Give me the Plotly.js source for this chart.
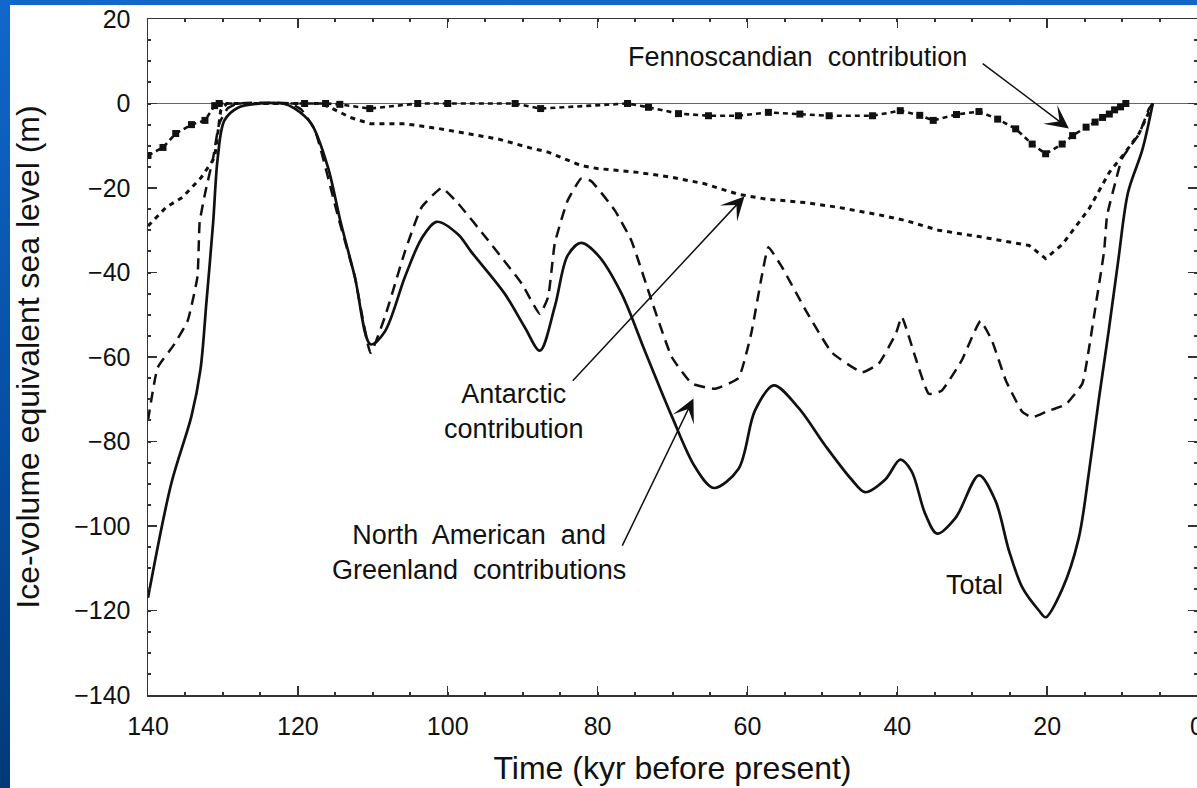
<!DOCTYPE html>
<html>
<head>
<meta charset="utf-8">
<script src="https://cdn.plot.ly/plotly-3.0.1.min.js"></script>
<style>
  html, body { margin: 0; padding: 0; }
  body { width: 1197px; height: 788px; overflow: hidden;
         background: linear-gradient(to bottom, #1167cc 0%, #0650a6 50%, #023a78 100%); }
  #chart { position: absolute; left: 10px; top: 5px; width: 1187px; height: 783px; background: #ffffff; }
</style>
</head>
<body>
<div id="chart"></div>
<script>
// Total ice-volume equivalent sea level (solid)
const totalKyr = [140, 136.9, 134.2, 133.0, 132.2, 131.3, 130.7, 129.8, 128.0, 125, 122, 120.4, 118.2, 116.0, 114.3, 112.4, 110.3, 108.4, 105.7, 103.5, 101.5, 98.6, 96.9, 92.4, 89.7, 87.7, 85.7, 84.0, 82.2, 79.9, 76.8, 73.7, 70.1, 67.0, 64.5, 61.2, 59.0, 56.5, 53.2, 49.6, 46.1, 44.3, 41.6, 39.6, 38.1, 36.3, 34.7, 32.2, 29.1, 26.9, 25.1, 23.3, 21.1, 20.2, 18.0, 15.8, 14.4, 13.1, 11.8, 10.5, 9.2, 7.3, 5.9];
const totalSL  = [-117, -90, -74, -63, -47, -28, -13, -4, -1, 0, 0, -1.2, -4.8, -15, -28, -41, -57, -54, -41, -32, -28, -31, -35, -45, -53, -58.5, -48, -36, -33, -36, -45, -58.5, -74, -86, -91, -86.5, -72.7, -66.7, -72, -81, -89, -92, -89, -84.3, -87, -97, -101.8, -98, -88, -94, -105.8, -114.6, -120, -121.6, -115, -103, -87, -70, -54, -37, -21, -11, 0];

// North American and Greenland contributions (long dashes)
const naKyr = [140, 138.7, 136.5, 134.7, 133.4, 133.1, 132.3, 131.3, 130.5, 129.4, 128, 121, 119.5, 117.7, 114.6, 112.4, 110.3, 108.4, 105.7, 103.5, 100.8, 98.6, 94.6, 90.1, 87.7, 86.6, 85.7, 84.0, 82.2, 80.9, 77.7, 75.5, 72.8, 70.1, 67.4, 64.3, 61.2, 59.5, 58.1, 57.2, 55.4, 52.2, 48.7, 44.7, 42.5, 40.2, 39.4, 37.6, 35.8, 34.1, 31.4, 28.9, 27.4, 25.5, 23.3, 22.0, 20.2, 17.5, 15.3, 14.4, 13.5, 12.4, 12.0, 10.8, 10.0, 7.7, 6.4, 5.9];
const naSL  = [-75, -62.5, -57, -51.4, -41, -28, -20.6, -12.8, -4.8, -1.2, 0, 0, -1.5, -6.4, -27, -41, -59, -50.6, -35, -24.6, -20, -23.7, -32.4, -42.7, -49.8, -45.8, -33, -23, -17.8, -18.3, -25.3, -32.4, -46.6, -60, -66.3, -67.5, -65, -54.5, -41, -34, -38.7, -49, -59, -63.6, -61.6, -54.5, -50.5, -60, -68.7, -68, -60.8, -51.5, -56, -65.6, -73, -74.3, -73, -71.2, -66.3, -57.8, -47.6, -35, -26.5, -18, -13, -7.1, -1.2, 0];

// Antarctic contribution (short dashes)
const antKyr = [140, 137.6, 135.4, 132.9, 131.1, 130.3, 129.5, 117, 115.6, 113.0, 110.3, 105.7, 101.3, 98.6, 93.3, 89, 86.6, 82.2, 80, 74.6, 70, 65.7, 61.2, 57.6, 52, 47.8, 42, 38.9, 34.5, 29.1, 22.4, 20.2, 18.0, 14.4, 11.7, 9.5, 7.7, 5.9];
const antSL  = [-29, -24.6, -22.2, -17.5, -12.8, -1.7, 0, 0, -1, -3.3, -4.8, -4.8, -5.9, -6.8, -8.4, -10.5, -11.5, -14.7, -15.4, -16.3, -17.5, -19, -21.5, -22.6, -23.5, -24.6, -26.5, -27.7, -30, -31.5, -33.6, -36.7, -33.4, -24.9, -16.3, -11.4, -7, 0];

// Fennoscandian contribution (dashes with square markers)
const fenKyr = [140, 138.0, 136.3, 134.2, 132.4, 131.1, 130.5, 119.1, 116.3, 114.4, 110.4, 104, 100, 91, 87.6, 76, 73.2, 69.2, 65.2, 61.2, 57.2, 53, 49.1, 43.3, 39.6, 37.0, 35.2, 32.1, 29.1, 26.6, 24.2, 22.0, 20.2, 18.0, 16.6, 14.8, 13.6, 12.6, 11.7, 11, 10.2, 9.5];
const fenSL  = [-12.3, -10.4, -7.1, -5, -4, -0.5, 0, 0, 0, -0.2, -1.2, 0, 0, 0, -1.2, 0, -0.9, -2.4, -2.9, -2.9, -2.1, -2.5, -2.9, -2.9, -1.7, -2.8, -4, -2.6, -1.9, -3.7, -6, -9.6, -11.9, -9.6, -7.6, -5.6, -4.4, -3.3, -2.5, -1.5, -0.8, 0];

const xTickVals = [140, 120, 100, 80, 60, 40, 20, 0];
const yTickVals = [20, 0, -20, -40, -60, -80, -100, -120, -140];

const FONT = 'Liberation Sans, Arial, Helvetica, sans-serif';
const INK = '#111111';

const traces = [
  { x: antKyr, y: antSL, mode: 'lines', name: 'Antarctic',
    line: { color: INK, width: 3, dash: '5px,5px' } },
  { x: fenKyr, y: fenSL, mode: 'lines+markers', name: 'Fennoscandian',
    line: { color: INK, width: 2.6, dash: '5px,4px' },
    marker: { symbol: 'square', size: 7, color: INK } },
  { x: naKyr, y: naSL, mode: 'lines', name: 'North American and Greenland',
    line: { color: INK, width: 2.5, dash: '11px,7px', shape: 'spline', smoothing: 0.4 } },
  { x: totalKyr, y: totalSL, mode: 'lines', name: 'Total',
    line: { color: INK, width: 2.7, shape: 'spline', smoothing: 0.9 } }
];

const axisCommon = {
  showline: true, linecolor: '#333', linewidth: 1.5, mirror: 'ticks',
  ticks: 'inside', ticklen: 9, tickwidth: 1.5, tickcolor: '#333',
  showgrid: false, ticklabeloverflow: 'allow',
  tickfont: { family: FONT, size: 25, color: INK }
};

const arrowStyle = { showarrow: true, arrowhead: 3, arrowsize: 2.6, arrowwidth: 1.5, arrowcolor: INK,
                     axref: 'x', ayref: 'y', xref: 'x', yref: 'y', text: '' };

const layout = {
  width: 1187, height: 783,
  margin: { l: 138, r: 0, t: 13.5, b: 93 },
  paper_bgcolor: '#ffffff', plot_bgcolor: '#ffffff',
  showlegend: false,
  xaxis: Object.assign({}, axisCommon, {
    range: [140, 0], tickmode: 'array', tickvals: xTickVals,
    ticktext: xTickVals.map(String), zeroline: false,
    ticklabelstandoff: 8,
    minor: { dtick: 5, tick0: 0, ticks: 'inside', ticklen: 3, tickwidth: 2, tickcolor: '#333' },
    title: { text: 'Time (kyr before present)', font: { family: FONT, size: 32, color: INK }, standoff: 18 }
  }),
  yaxis: Object.assign({}, axisCommon, {
    range: [-140, 20], tickmode: 'array', tickvals: yTickVals,
    zeroline: true, zerolinecolor: '#666', zerolinewidth: 1.6,
    ticklabelstandoff: 11,
    minor: { dtick: 5, tick0: 0, ticks: 'inside', ticklen: 3, tickwidth: 2, tickcolor: '#333' },
    title: { text: 'Ice-volume equivalent sea level (m)', font: { family: FONT, size: 32, color: INK }, standoff: 26 }
  }),
  annotations: [
    { x: 53.3, y: 11.1, xref: 'x', yref: 'y', text: 'Fennoscandian  contribution', showarrow: false,
      font: { family: FONT, size: 27, color: INK } },
    Object.assign({ x: 17.1, y: -5.9, ax: 28.8, ay: 9.7 }, arrowStyle),
    { x: 91.2, y: -72.9, xref: 'x', yref: 'y', text: 'Antarctic<br>contribution', showarrow: false,
      font: { family: FONT, size: 27, color: INK } },
    Object.assign({ x: 60.4, y: -22, ax: 83.5, ay: -66 }, arrowStyle),
    { x: 95.8, y: -106.2, xref: 'x', yref: 'y', text: 'North  American  and<br>Greenland  contributions', showarrow: false,
      font: { family: FONT, size: 27, color: INK } },
    Object.assign({ x: 67.2, y: -69.8, ax: 76.8, ay: -105 }, arrowStyle),
    { x: 29.7, y: -114, xref: 'x', yref: 'y', text: 'Total', showarrow: false,
      font: { family: FONT, size: 27, color: INK } }
  ]
};

Plotly.newPlot('chart', traces, layout, { displayModeBar: false, staticPlot: true });
</script>
</body>
</html>
